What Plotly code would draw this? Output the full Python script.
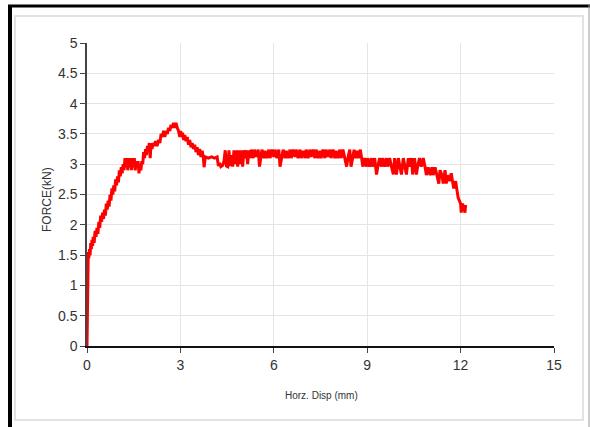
import plotly.graph_objects as go

# ---- data (Horz. Disp in mm, Force in kN) ----
disp_rise = [0.0, 0.01, 0.02, 0.04, 0.06, 0.08, 0.1, 0.12, 0.14, 0.16, 0.18, 0.2, 0.23, 0.26,
             0.29, 0.32, 0.35, 0.38, 0.41, 0.44, 0.47, 0.5, 0.53, 0.56, 0.59, 0.62, 0.65,
             0.68, 0.71, 0.74, 0.77, 0.8, 0.83, 0.86, 0.89, 0.92, 0.95, 0.98, 1.01, 1.04,
             1.07, 1.1, 1.13, 1.16, 1.19, 1.22, 1.25, 1.28, 1.31, 1.34, 1.37, 1.4, 1.43,
             1.46, 1.49, 1.52, 1.55, 1.58, 1.61, 1.64, 1.67, 1.7, 1.73, 1.76, 1.79, 1.82,
             1.85, 1.88, 1.91, 1.94, 1.97, 2.0, 2.03, 2.06, 2.09, 2.12, 2.16, 2.2, 2.25,
             2.3, 2.34, 2.38, 2.42, 2.46, 2.5, 2.54, 2.58, 2.62, 2.66, 2.7, 2.74, 2.78,
             2.82, 2.86, 2.9, 2.94]
force_rise = [0.0, 0.6, 1.45, 1.55, 1.45, 1.6, 1.5, 1.7, 1.6, 1.75, 1.65, 1.8, 1.7, 1.9,
              1.8, 1.95, 1.85, 2.05, 1.95, 2.15, 2.05, 2.2, 2.1, 2.25, 2.15, 2.35, 2.25,
              2.4, 2.3, 2.5, 2.4, 2.6, 2.5, 2.65, 2.55, 2.75, 2.65, 2.8, 2.7, 2.9,
              2.8, 2.95, 2.85, 3.0, 2.9, 3.1, 2.95, 3.1, 2.9, 3.1, 2.95, 3.1, 2.9,
              3.1, 2.95, 3.1, 2.9, 3.05, 2.95, 3.05, 2.85, 3.0, 2.9, 3.05, 3.0, 3.2,
              3.1, 3.25, 3.15, 3.3, 3.2, 3.35, 3.1, 3.35, 3.25, 3.35, 3.3, 3.38, 3.3,
              3.4, 3.35, 3.5, 3.45, 3.55, 3.45, 3.55, 3.5, 3.6, 3.55, 3.65, 3.6, 3.68,
              3.6, 3.68, 3.6, 3.55]

disp_fall = [2.98, 3.01, 3.04, 3.07, 3.1, 3.14, 3.18, 3.22, 3.26, 3.3, 3.34, 3.38, 3.42,
             3.46, 3.5, 3.54, 3.58, 3.62, 3.66, 3.7, 3.74, 3.76, 3.8, 3.9, 4.0, 4.1, 4.18,
             4.22, 4.26, 4.3, 4.36, 4.4, 4.44, 4.48, 4.52, 4.56, 4.6, 4.64, 4.68, 4.72,
             4.76, 4.8, 4.84, 4.88, 4.92, 4.96, 5.0, 5.04, 5.08, 5.12, 5.16, 5.2]
force_fall = [3.45, 3.55, 3.45, 3.52, 3.4, 3.48, 3.38, 3.45, 3.32, 3.4, 3.28, 3.35, 3.25,
              3.32, 3.2, 3.28, 3.15, 3.25, 3.12, 3.22, 3.1, 2.95, 3.12, 3.1, 3.12, 3.1, 3.12,
              2.97, 3.02, 2.96, 2.98, 3.05, 3.23, 2.97, 2.96, 3.23, 2.97, 3.15, 2.96, 3.23,
              3.0, 3.23, 2.96, 3.23, 3.0, 3.23, 2.96, 3.23, 3.1, 3.23, 3.0, 3.23]

disp_plateau = [5.24, 5.28, 5.34, 5.38, 5.44, 5.5, 5.54, 5.58, 5.62, 5.68, 5.72, 5.78, 5.84,
                5.88, 5.94, 6.0, 6.04, 6.1, 6.16, 6.2, 6.24, 6.3, 6.36, 6.4, 6.46, 6.52,
                6.56, 6.62, 6.68, 6.72, 6.78, 6.84, 6.88, 6.94, 7.0, 7.04, 7.1, 7.16, 7.2,
                7.26, 7.32, 7.36, 7.42, 7.48, 7.52, 7.58, 7.64, 7.68, 7.74, 7.8, 7.84, 7.9,
                7.96, 8.0, 8.06, 8.12, 8.16, 8.22, 8.28, 8.34, 8.38, 8.44, 8.48, 8.52, 8.58,
                8.62, 8.68, 8.72, 8.78]
force_plateau = [3.1, 3.24, 3.1, 3.24, 3.12, 3.24, 2.96, 3.1, 3.24, 3.1, 3.22, 3.1, 3.24,
                 3.1, 3.24, 3.12, 3.24, 3.1, 3.24, 2.96, 3.1, 3.24, 3.1, 3.22, 3.1, 3.24,
                 3.1, 3.24, 3.12, 3.24, 3.1, 3.24, 3.1, 3.22, 3.1, 3.24, 3.1, 3.24, 3.12,
                 3.24, 3.1, 3.24, 3.1, 3.22, 3.1, 3.24, 3.1, 3.24, 3.12, 3.24, 3.1, 3.24,
                 3.1, 3.22, 3.1, 3.24, 3.1, 3.24, 3.1, 2.96, 3.1, 3.24, 2.96, 3.1, 3.24,
                 3.1, 3.22, 3.1, 3.24]

disp_tail = [8.82, 8.86, 8.92, 8.98, 9.02, 9.08, 9.14, 9.18, 9.24, 9.3, 9.34, 9.4, 9.46,
             9.5, 9.56, 9.62, 9.66, 9.72, 9.78, 9.84, 9.88, 9.94, 10.0, 10.04, 10.1, 10.16,
             10.2, 10.26, 10.32, 10.36, 10.42, 10.46, 10.52, 10.58, 10.62, 10.68, 10.74,
             10.8, 10.86, 10.9, 10.96, 11.02, 11.08, 11.12, 11.18, 11.24, 11.3, 11.34, 11.4,
             11.44, 11.5, 11.54, 11.58, 11.64, 11.7, 11.74, 11.78, 11.84, 11.88, 11.92,
             11.96, 12.0, 12.02, 12.05, 12.1, 12.14, 12.16]
force_tail = [3.1, 2.96, 3.1, 2.96, 3.1, 2.96, 3.1, 2.96, 3.1, 2.83, 2.96, 3.1, 2.96,
              3.1, 2.96, 3.1, 2.96, 3.1, 2.96, 2.83, 3.1, 2.83, 3.1, 2.96, 2.83, 3.1,
              2.96, 2.83, 3.1, 2.96, 3.1, 2.83, 3.1, 2.83, 2.96, 3.1, 2.96,
              3.1, 2.95, 2.82, 2.95, 2.82, 2.95, 2.82, 2.95, 2.82, 2.68, 2.9, 2.82,
              2.68, 2.9, 2.68, 2.82, 2.72, 2.85, 2.72, 2.6, 2.72, 2.55, 2.45,
              2.4, 2.35, 2.2, 2.35, 2.3, 2.2, 2.33]

x_ticks = [0, 3, 6, 9, 12, 15]
y_ticks = [0, 0.5, 1, 1.5, 2, 2.5, 3, 3.5, 4, 4.5, 5]
y_tick_text = ["0", "0.5", "1", "1.5", "2", "2.5", "3", "3.5", "4", "4.5", "5"]

disp = disp_rise + disp_fall + disp_plateau + disp_tail
force = force_rise + force_fall + force_plateau + force_tail

W, H = 590, 427
L, R, T, B = 87, 36, 43, 81
pw, ph = W - L - R, H - T - B


def px(xp):
    return (xp - L) / pw


def py(yp):
    return (H - B - yp) / ph


sans = "Liberation Sans, Arial, sans-serif"

fig = go.Figure()
fig.add_trace(go.Scatter(x=disp, y=force, mode="lines",
                         line=dict(color="#ff0000", width=3), hoverinfo="skip",
                         showlegend=False))

axis_common = dict(showgrid=True, gridcolor="#e4e4e4", gridwidth=1, zeroline=False,
                   ticks="outside", ticklen=5, tickcolor="#444",
                   tickfont=dict(family=sans, size=14, color="#333"))

fig.update_layout(
    width=W, height=H, autosize=False,
    margin=dict(l=L, r=R, t=T, b=B, pad=0),
    paper_bgcolor="white", plot_bgcolor="white",
    xaxis=dict(range=[0, 15], tickvals=x_ticks, showline=True, linecolor="#111",
               linewidth=2, **axis_common),
    yaxis=dict(range=[0, 5], tickvals=y_ticks, ticktext=y_tick_text, showline=True,
               linecolor="#444", linewidth=1.5, **axis_common),
    shapes=[
        dict(type="rect", xref="paper", yref="paper", x0=px(15), x1=px(583), y0=py(420),
             y1=py(16), line=dict(color="#e2e2e2", width=2)),
        dict(type="line", xref="paper", yref="paper", x0=px(10), x1=px(10), y0=py(427),
             y1=py(5), line=dict(color="#000", width=4)),
        dict(type="line", xref="paper", yref="paper", x0=px(8), x1=px(590), y0=py(6),
             y1=py(6), line=dict(color="#000", width=3)),
        dict(type="line", xref="paper", yref="paper", x0=px(589), x1=px(589), y0=py(427),
             y1=py(5), line=dict(color="#9a9a9a", width=1)),
    ],
    annotations=[
        dict(text="FORCE(kN)", xref="paper", yref="paper", x=px(47), y=py(200),
             textangle=-90, showarrow=False, xanchor="center", yanchor="middle",
             font=dict(family=sans, size=12, color="#333")),
        dict(text="Horz. Disp (mm)", xref="paper", yref="paper", x=px(321), y=py(395),
             showarrow=False, xanchor="center", yanchor="middle",
             font=dict(family=sans, size=10, color="#333")),
    ],
)

fig.write_html("out.html")
